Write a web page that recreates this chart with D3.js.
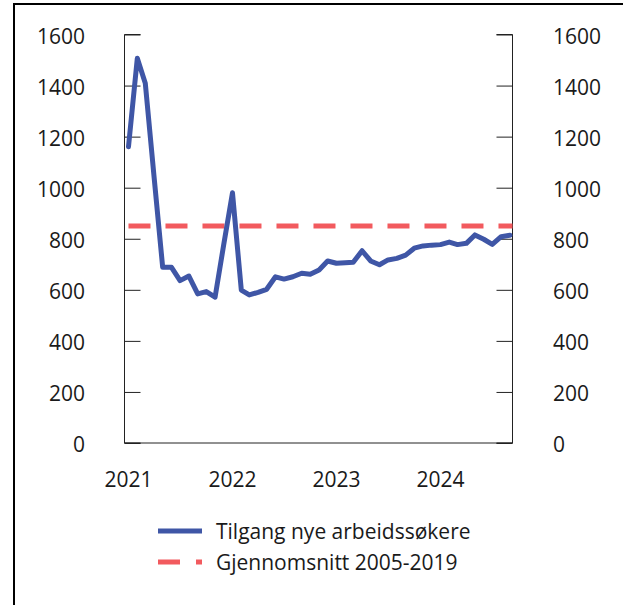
<!DOCTYPE html>
<html>
<head>
<meta charset="utf-8">
<script src="https://cdn.jsdelivr.net/npm/d3@7"></script>
<style>
  html, body { margin: 0; padding: 0; background: #fff; }
  svg { display: block; font-family: "Open Sans", "Noto Sans", sans-serif; }
</style>
</head>
<body>
<div id="chart"></div>
<script>
// Monthly data, Jan 2021 – Sep 2024
const months = d3.range(45).map(i => new Date(2021, i, 1));
const tilgang = [1160, 1507, 1409, 1040, 688, 688, 636, 654, 584, 593, 571, 775,
                 980, 599, 580, 590, 602, 651, 642, 651, 665, 661, 678, 713,
                 704, 706, 708, 753, 713, 698, 717, 723, 736, 763, 772, 775,
                 777, 787, 777, 782, 815, 798, 778, 808, 814];
const gjennomsnitt = 850;
const yTicks = [0, 200, 400, 600, 800, 1000, 1200, 1400, 1600];
const xTickYears = [2021, 2022, 2023, 2024];
const seriesNames = ["Tilgang nye arbeidssøkere", "Gjennomsnitt 2005-2019"];

(function () {
const W = 623, H = 605;
const pL = 124.5, pR = 512.5, pT = 34.5, pB = 443;
const blue = "#3f56a6", red = "#f25a5e", ink = "#1a1a1a";
const fs = 21;

const svg = d3.select("#chart").append("svg").attr("width", W).attr("height", H);

// outer frame (left and top)
svg.append("path").attr("d", `M14,${H} L14,4 L${W},4`)
  .attr("fill", "none").attr("stroke", "#000").attr("stroke-width", 2);

const x = d3.scaleTime()
  .domain([new Date(2020, 11, 18), new Date(2024, 8, 10)])
  .range([pL, pR]);
const y = d3.scaleLinear().domain([0, 1600]).range([pB, pT]);

// left axis
const gl = svg.append("g").attr("transform", `translate(${pL},0)`)
  .call(d3.axisRight(y).tickValues(yTicks).tickSize(16).tickFormat(""));
gl.selectAll("line, path").attr("stroke", "#222");
gl.select(".domain").attr("d", `M16,${pT}H0V${pB}H16`);
// right axis
const gr = svg.append("g").attr("transform", `translate(${pR},0)`)
  .call(d3.axisLeft(y).tickValues(yTicks).tickSize(16).tickFormat(""));
gr.selectAll("line, path").attr("stroke", "#222");
gr.select(".domain").attr("d", `M-16,${pT}H0V${pB}H-16`);
// bottom baseline
svg.append("line").attr("x1", pL).attr("x2", pR).attr("y1", pB).attr("y2", pB)
  .attr("stroke", "#222");

// tick labels
const lbl = svg.append("g");
yTicks.forEach(t => {
  lbl.append("text").attr("x", 85).attr("y", y(t) + 1.5).attr("dy", "0.36em")
    .attr("text-anchor", "end").attr("font-size", fs).attr("fill", ink).text(t);
  lbl.append("text").attr("x", 553).attr("y", y(t) + 1.5).attr("dy", "0.36em")
    .attr("text-anchor", "start").attr("font-size", fs).attr("fill", ink).text(t);
});
xTickYears.forEach(yr => {
  svg.append("text").attr("x", x(new Date(yr, 0, 1))).attr("y", 479).attr("dy", "0.36em")
    .attr("text-anchor", "middle").attr("font-size", fs).attr("fill", ink).text(yr);
});

// average dashed line
svg.append("line")
  .attr("x1", x(months[0])).attr("x2", pR)
  .attr("y1", y(gjennomsnitt)).attr("y2", y(gjennomsnitt))
  .attr("stroke", red).attr("stroke-width", 5).attr("stroke-dasharray", "22,15");

// main line
const line = d3.line().x((d, i) => x(months[i])).y(d => y(d));
svg.append("path").datum(tilgang).attr("d", line)
  .attr("fill", "none").attr("stroke", blue).attr("stroke-width", 5)
  .attr("stroke-linejoin", "round").attr("stroke-linecap", "round");

// legend
const lg = svg.append("g");
lg.append("line").attr("x1", 158).attr("x2", 202).attr("y1", 531).attr("y2", 531)
  .attr("stroke", blue).attr("stroke-width", 5);
lg.append("text").attr("x", 216).attr("y", 531).attr("dy", "0.36em")
  .attr("font-size", fs).attr("fill", ink).text(seriesNames[0]);
lg.append("line").attr("x1", 158).attr("x2", 202).attr("y1", 562).attr("y2", 562)
  .attr("stroke", red).attr("stroke-width", 5).attr("stroke-dasharray", "22,16");
lg.append("text").attr("x", 216).attr("y", 562).attr("dy", "0.36em")
  .attr("font-size", fs).attr("fill", ink).text(seriesNames[1]);
})();
</script>
</body>
</html>
